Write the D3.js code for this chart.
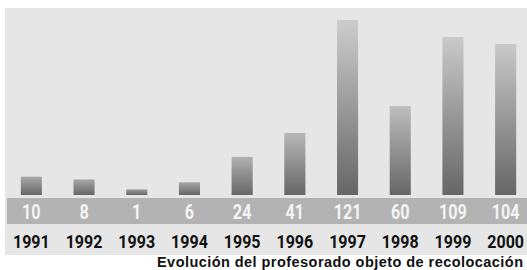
<!DOCTYPE html>
<html>
<head>
<meta charset="utf-8">
<script src="https://cdn.jsdelivr.net/npm/d3@7"></script>
<style>
    body { margin: 0; background: #ffffff; }
    svg { display: block; }
</style>
</head>
<body>
<svg></svg>
<script>
var years = ["1991", "1992", "1993", "1994", "1995", "1996", "1997", "1998", "1999", "2000"];
var values = [10, 8, 1, 6, 24, 41, 121, 60, 109, 104];
var title = "Evolución del profesorado objeto de recolocación";

var width = 527;
var height = 270;
var barBottom = 195;
var barTop = 20;
var valueDigitWidth = 9.3;   // condensed look of the original lettering
var yearDigitWidth = 9.2;

var svg = d3.select("svg")
    .attr("width", width)
    .attr("height", height);

var x = d3.scaleBand()
    .domain(years)
    .range([5, 532])
    .paddingInner(0.6)
    .paddingOuter(0.3);

// bars do not start at zero height, small offset at the bottom
var y = d3.scaleLinear()
    .domain([-3, 121])
    .range([barBottom, barTop]);

// taller bars get a lighter top
var topShade = d3.scalePow()
    .exponent(0.5)
    .domain([0, 121])
    .range(["#9a9a9a", "#cdcdcd"]);

// squeeze a label horizontally around its centre
function condense(selection, baseline, digitWidth) {
    selection.each(function() {
        var node = d3.select(this);
        var cx = +node.attr("x");
        var natural = this.getComputedTextLength();
        var sx = (this.textContent.length * digitWidth) / natural;
        node.attr("x", 0)
            .attr("y", 0)
            .attr("transform", "translate(" + cx + "," + baseline + ") scale(" + sx + ",1)");
    });
}

// background panel
svg.append("rect")
    .attr("x", 5)
    .attr("y", 8)
    .attr("width", width - 5)
    .attr("height", 247)
    .attr("fill", "#e6e6e6");

var defs = svg.append("defs");
values.forEach(function(value, index) {
    var grad = defs.append("linearGradient")
        .attr("id", "barGrad" + index)
        .attr("x1", 0).attr("y1", 0)
        .attr("x2", 0).attr("y2", 1);
    grad.append("stop").attr("offset", "0%").attr("stop-color", topShade(value));
    grad.append("stop").attr("offset", "100%").attr("stop-color", "#666666");
});

svg.append("g")
    .attr("id", "bars")
    .selectAll("rect")
    .data(values)
    .enter()
    .append("rect")
    .attr("x", function(value, index) { return x(years[index]); })
    .attr("y", function(value) { return y(value); })
    .attr("width", x.bandwidth())
    .attr("height", function(value) { return y.range()[0] - y(value); })
    .attr("fill", function(value, index) { return "url(#barGrad" + index + ")"; });

// value band
svg.append("rect")
    .attr("x", 7)
    .attr("y", 198)
    .attr("width", width - 7)
    .attr("height", 26)
    .attr("fill", "#b3b3b3");

svg.append("g")
    .attr("id", "valueLabels")
    .selectAll("text")
    .data(values)
    .enter()
    .append("text")
    .attr("text-anchor", "middle")
    .attr("x", function(value, index) { return x(years[index]) + x.bandwidth() / 2; })
    .style("font-family", "Roboto, sans-serif")
    .style("font-weight", "bold")
    .style("font-size", "19.5px")
    .style("fill", "#f4f4f4")
    .text(function(value) { return value; })
    .call(condense, 219, valueDigitWidth);

svg.append("g")
    .attr("id", "yearLabels")
    .selectAll("text")
    .data(years)
    .enter()
    .append("text")
    .attr("text-anchor", "middle")
    .attr("x", function(year) { return x(year) + x.bandwidth() / 2; })
    .style("font-family", "Roboto, sans-serif")
    .style("font-weight", "bold")
    .style("font-size", "19px")
    .style("fill", "#111111")
    .text(function(year) { return year; })
    .call(condense, 248, yearDigitWidth);

svg.append("text")
    .attr("x", 157)
    .attr("y", 267)
    .attr("textLength", 366)
    .attr("lengthAdjust", "spacing")
    .style("font-family", "'Liberation Sans', Arial, sans-serif")
    .style("font-weight", "bold")
    .style("font-size", "14.5px")
    .style("fill", "#111111")
    .text(title);
</script>
</body>
</html>
